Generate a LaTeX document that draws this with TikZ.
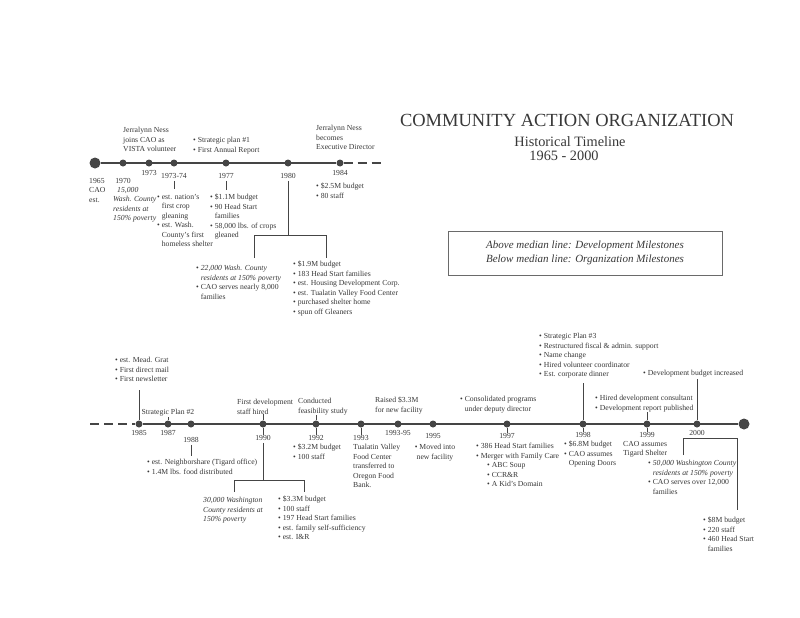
\documentclass[tikz,border=0pt]{standalone}
\usepackage{fontspec}
\setmainfont{Liberation Serif}
\definecolor{ink}{HTML}{383838}
\definecolor{lin}{HTML}{454545}
\newcommand\bi{\textbullet\ }
\newcommand\ind{\phantom{\textbullet\ }}
\begin{document}
\begin{tikzpicture}[x=1pt,y=-1pt,
  txt/.style={font=\fontsize{7.7}{9.5}\selectfont, text=ink, inner sep=0pt, align=left, anchor=north west},
  yr/.style={font=\fontsize{7.7}{9.5}\selectfont, text=ink, inner sep=0pt},
  dot/.style={circle, fill=lin, inner sep=0pt, minimum size=7pt},
  bigdot/.style={circle, fill=lin, inner sep=0pt, minimum size=11pt},
  tl/.style={draw=lin, line width=1.4pt},
  tldash/.style={draw=lin, line width=1.4pt, dash pattern=on 9pt off 5pt},
  conn/.style={draw=lin, line width=0.6pt}]
\useasboundingbox[fill=white] (0,0) rectangle (800,618);

% ---------- title ----------
\node[font=\fontsize{18.5}{20}\selectfont, text=ink, inner sep=0pt] (title) at (567,120) {COMMUNITY ACTION ORGANIZATION};
\node[font=\fontsize{14.3}{15}\selectfont, text=ink, inner sep=0pt] (sub) at (570,142) {Historical Timeline};
\node[font=\fontsize{14.3}{15}\selectfont, text=ink, inner sep=0pt] (span) at (564,156) {1965 - 2000};

\node[draw=lin!80, line width=0.6pt, minimum width=274pt, minimum height=44pt, inner sep=0pt,
  font=\fontsize{11}{13.5}\selectfont\itshape, text=ink, align=center] (legend) at (585,253)
  {Above median line: Development Milestones\\Below median line: Organization Milestones};

% ---------- top timeline ----------
\node[bigdot] (d65) at (95,163) {};
\node[dot] (d70) at (123,163) {};
\node[dot] (d73) at (149,163) {};
\node[dot] (d7374) at (174,163) {};
\node[dot] (d77) at (226,163) {};
\node[dot] (d80) at (288,163) {};
\node[dot] (d84) at (340,163) {};
\coordinate (te) at (381,163);
\draw[tl] (d65) -- (d84);
\draw[tldash] (d84) -- (te);

\node[txt] (n73a) at (123,127) {Jerralynn Ness\\joins CAO as\\VISTA volunteer};
\node[yr] (y73) at (149,173) {1973};
\node[txt] (n77a) at (193,137) {\bi Strategic plan \#1\\\bi First Annual Report};
\node[txt] (n84a) at (316,125) {Jerralynn Ness\\becomes\\Executive Director};

\node[txt] (y65) at (89,178) {1965\\CAO\\est.};
\node[yr] (y70) at (123,181) {1970};
\node[txt, font=\fontsize{7.7}{9.5}\selectfont\itshape] (n70) at (113,187) {\hspace{4pt}15,000\\Wash. County\\residents at\\150\% poverty};

\node[yr] (y7374) at (174,176) {1973-74};
\coordinate (t7374) at (174,189);
\draw[conn] (y7374.south) ++(0,2) -- (t7374);
\node[txt] (n7374) at (157,194) {\bi est. nation's\\\ind first crop\\\ind gleaning\\\bi est. Wash.\\\ind County's first\\\ind homeless shelter};

\node[yr] (y77) at (226,176) {1977};
\coordinate (t77) at (226,190);
\draw[conn] (y77.south) ++(0,2) -- (t77);
\node[txt] (n77) at (210,194) {\bi \$1.1M budget\\\bi 90 Head Start\\\ind families\\\bi 58,000 lbs. of crops\\\ind gleaned};

\node[yr] (y80) at (288,176) {1980};
\coordinate (b80) at (288,235);
\coordinate (b80l) at (254,235);
\coordinate (b80r) at (326,235);
\coordinate (b80ll) at (254,258);
\coordinate (b80rl) at (326,258);
\draw[conn] (y80.south) ++(0,2) -- (b80);
\draw[conn] (b80ll) -- (b80l) -- (b80r) -- (b80rl);
\node[txt] (n80l) at (196,265) {\bi \textit{22,000 Wash. County}\\\ind\textit{residents at 150\% poverty}\\\bi CAO serves nearly 8,000\\\ind families};
\node[txt] (n80r) at (293,261) {\bi \$1.9M budget\\\bi 183 Head Start families\\\bi est. Housing Development Corp.\\\bi est. Tualatin Valley Food Center\\\bi purchased shelter home\\\bi spun off Gleaners};

\node[yr] (y84) at (340,173) {1984};
\node[txt] (n84) at (316,183) {\bi \$2.5M budget\\\bi 80 staff};

% ---------- bottom timeline ----------
\coordinate (bs) at (90,424);
\node[dot] (d85) at (139,424) {};
\node[dot] (d87) at (168,424) {};
\node[dot] (d88) at (191,424) {};
\node[dot] (d90) at (263,424) {};
\node[dot] (d92) at (316,424) {};
\node[dot] (d93) at (361,424) {};
\node[dot] (d9395) at (398,424) {};
\node[dot] (d95) at (433,424) {};
\node[dot] (d97) at (507,424) {};
\node[dot] (d98) at (583,424) {};
\node[dot] (d99) at (647,424) {};
\node[dot] (d00) at (697,424) {};
\node[bigdot] (dend) at (744,424) {};
\draw[tldash] (bs) -- (d85);
\draw[tl] (d85) -- (dend);

% 1985
\node[txt] (n85a) at (115,357) {\bi est. Mead. Grat\\\bi First direct mail\\\bi First newsletter};
\coordinate (u85) at (139,390);
\draw[conn] (d85) -- (u85);
\node[yr] (y85) at (139,433) {1985};
% 1987
\node[yr] (sp2) at (168,413) {Strategic Plan \#2};
\draw[conn] (d87) -- (sp2.south);
\node[yr] (y87) at (168,433) {1987};
% 1988
\node[yr] (y88) at (191,440) {1988};
\coordinate (t88) at (191,456);
\draw[conn] (y88.south) ++(0,2) -- (t88);
\node[txt] (n88) at (147,459) {\bi est. Neighborshare (Tigard office)\\\bi 1.4M lbs. food distributed};
% 1990
\node[txt] (n90a) at (237,399) {First development\\staff hired};
\draw[conn] (d90) -- (n90a.south -| d90);
\node[yr] (y90) at (263,438) {1990};
\draw[conn] (d90.south) -- (y90.north);
\coordinate (b90) at (263,480);
\coordinate (b90l) at (234,480);
\coordinate (b90r) at (304,480);
\coordinate (b90ll) at (234,492);
\coordinate (b90rl) at (304,492);
\draw[conn] (y90.south) ++(0,2) -- (b90);
\draw[conn] (b90ll) -- (b90l) -- (b90r) -- (b90rl);
\node[txt, font=\fontsize{7.7}{9.5}\selectfont\itshape] (n90l) at (203,497) {30,000 Washington\\County residents at\\150\% poverty};
\node[txt] (n90r) at (278,496) {\bi \$3.3M budget\\\bi 100 staff\\\bi 197 Head Start families\\\bi est. family self-sufficiency\\\bi est. I\&R};
% 1992
\node[txt] (n92a) at (298,398) {Conducted\\feasibility study};
\draw[conn] (d92) -- (n92a.south -| d92);
\node[yr] (y92) at (316,438) {1992};
\draw[conn] (d92.south) -- (y92.north);
\node[txt] (n92) at (293,444) {\bi \$3.2M budget\\\bi 100 staff};
% 1993
\node[txt] (n93) at (353,435) {1993\\Tualatin Valley\\Food Center\\transferred to\\Oregon Food\\Bank.};
\draw[conn] (d93.south) -- (n93.north -| d93);
% 1993-95
\node[txt] (n9395a) at (375,397) {Raised \$3.3M\\for new facility};
\node[yr] (y9395) at (398,433) {1993-95};
% 1995
\node[yr] (y95) at (433,436) {1995};
\node[txt, anchor=north, align=center] (n95) at (435,444) {\bi Moved into\\new facility};
% 1997
\node[txt] (n97a) at (460,396) {\bi Consolidated programs\\\ind under deputy director};
\node[yr] (y97) at (507,436) {1997};
\draw[conn] (d97.south) -- (y97.north);
\node[txt] (n97) at (476,443) {\bi 386 Head Start families\\\bi Merger with Family Care\\\hspace{11pt}\bi ABC Soup\\\hspace{11pt}\bi CCR\&R\\\hspace{11pt}\bi A Kid's Domain};
% 1998
\node[txt] (n98a) at (539,333) {\bi Strategic Plan \#3\\\bi Restructured fiscal \& admin. support\\\bi Name change\\\bi Hired volunteer coordinator\\\bi Est. corporate dinner};
\coordinate (u98) at (583,383);
\draw[conn] (d98) -- (u98);
\node[yr] (y98) at (583,435) {1998};
\draw[conn] (d98.south) -- (y98.north);
\node[txt] (n98) at (564,441) {\bi \$6.8M budget\\\bi CAO assumes\\\ind Opening Doors};
% 1999
\node[txt] (n99a) at (595,395) {\bi Hired development consultant\\\bi Development report published};
\draw[conn] (d99) -- (n99a.south -| d99);
\node[yr] (y99) at (647,435) {1999};
\draw[conn] (d99.south) -- (y99.north);
\node[txt] (n99) at (623,441) {CAO assumes\\Tigard Shelter};
% 2000
\node[txt] (n00a) at (643,370) {\bi Development budget increased};
\coordinate (u00) at (697,379);
\draw[conn] (d00) -- (u00);
\node[yr] (y00) at (697,433) {2000};
\coordinate (b00l) at (683,438);
\coordinate (b00r) at (737,438);
\coordinate (b00ll) at (683,455);
\coordinate (b00rl) at (737,510);
\draw[conn] (b00ll) -- (b00l) -- (b00r) -- (b00rl);
\node[txt] (n00l) at (648,460) {\bi \textit{50,000 Washington County}\\\ind\textit{residents at 150\% poverty}\\\bi CAO serves over 12,000\\\ind families};
\node[txt] (n00r) at (703,517) {\bi \$8M budget\\\bi 220 staff\\\bi 460 Head Start\\\ind families};
\end{tikzpicture}
\end{document}
